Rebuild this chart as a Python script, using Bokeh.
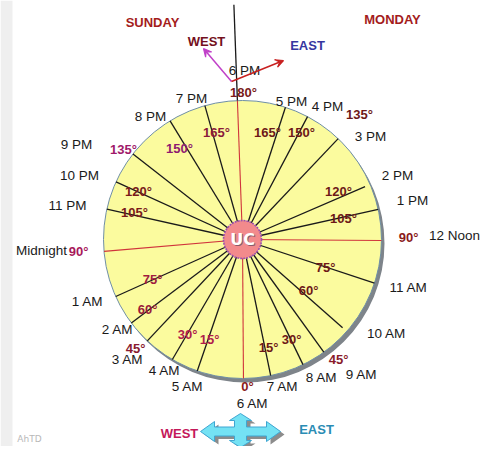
import numpy as np
from bokeh.plotting import figure
from bokeh.models import Range1d, Arrow, VeeHead
from bokeh.core.properties import value
from bokeh.embed import file_html
from bokeh.resources import INLINE

# ---------------- data ----------------
hours = ["6 PM", "5 PM", "4 PM", "3 PM", "2 PM", "1 PM", "12 Noon", "11 AM", "10 AM",
         "9 AM", "8 AM", "7 AM", "6 AM", "5 AM", "4 AM", "3 AM", "2 AM", "1 AM",
         "Midnight", "11 PM", "10 PM", "9 PM", "8 PM", "7 PM"]
# direction of each hour ray, degrees clockwise from "up"
ray_angle = [-2.1, 18.0, 27.9, 43.5, 66.7, 77.5, 90.4, 108.3, 131.4, 144.2, 154.2, 168.3,
             179.6, 199.0, 210.3, 223.2, 233.1, 245.8, 265.1, 282.6, 294.5, 308.0, 328.6, 344.3]
ray_reach = [1.0, 1.0, 1.0, 1.0, 0.96, 1.0, 1.0, 1.0, 0.96, 1.0, 1.0, 1.0,
             1.0, 1.0, 1.0, 1.0, 1.0, 1.0, 1.0, 1.0, 1.0, 1.0, 1.0, 1.0]
red_hours = ["6 PM", "12 Noon", "6 AM", "Midnight"]

deg_labels = ["180°", "165°", "150°", "135°", "120°", "105°", "90°", "75°", "60°", "45°", "30°", "15°", "0°",
              "165°", "150°", "135°", "120°", "105°", "90°", "75°", "60°", "45°", "30°", "15°"]

# ---------------- layout ----------------
cx, cy, R = 242, 239, 139
hour_pos = {
    "6 PM": (244, 70), "5 PM": (291, 101), "4 PM": (327, 106), "3 PM": (370, 136),
    "2 PM": (397, 175), "1 PM": (412, 200), "12 Noon": (454, 235), "11 AM": (408, 287),
    "10 AM": (386, 333), "9 AM": (361, 374), "8 AM": (321, 377), "7 AM": (282, 386),
    "6 AM": (252, 403), "5 AM": (187, 386), "4 AM": (164, 370), "3 AM": (127, 359),
    "2 AM": (117, 329), "1 AM": (87, 301), "Midnight": (41, 250), "11 PM": (67, 205),
    "10 PM": (79, 175), "9 PM": (76, 144), "8 PM": (150, 116), "7 PM": (191, 98),
}
deg_pos = [(243, 92), (216, 132), (179, 148), (123, 149), (138, 191), (134, 212), (78, 251),
           (152, 279), (147, 309), (135, 348), (187, 334), (209, 339), (247, 386),
           (267, 132), (301, 132), (359, 114), (338, 191), (343, 218), (408, 237),
           (325, 267), (308, 290), (338, 359), (291, 339), (268, 347)]
deg_color = ["#7a1a1a", "#8a1a3a", "#8e1a70", "#a0196a", "#7a1a1a", "#7a1a1a", "#a8185a",
             "#a01c40", "#9a1c3a", "#8a1a30", "#b01c4c", "#b01c4c", "#8a1a1a",
             "#6e1818", "#6e1818", "#6e1818", "#6e1818", "#6e1818", "#8a1a1a",
             "#6e1818", "#6e1818", "#8a1a2a", "#6e1818", "#6e1818"]

p = figure(width=488, height=446, x_range=Range1d(0, 488), y_range=Range1d(446, 0),
           output_backend="svg", toolbar_location=None, min_border=0)
p.axis.visible = False
p.grid.visible = False
p.outline_line_color = None
p.background_fill_color = "white"
p.border_fill_color = "white"

# left grey strip
p.quad(left=[0], right=[12], top=[0], bottom=[446], fill_color="#efefef", line_color=None)

# dial disc with shadow
p.circle(x=[cx + 3], y=[cy + 4], radius=R, fill_color="#7e848a", line_color=None)
p.circle(x=[cx], y=[cy], radius=R, fill_color="#fbfb9e", line_color="#6f8fa6", line_width=1)

# rays
a = np.radians(np.array(ray_angle))
reach = np.array(ray_reach)
ex = cx + R * reach * np.sin(a)
ey = cy - R * reach * np.cos(a)
is_red = np.array([h in red_hours for h in hours])
p.segment(x0=[cx] * int((~is_red).sum()), y0=[cy] * int((~is_red).sum()),
          x1=ex[~is_red], y1=ey[~is_red], line_color="#1a1a1a", line_width=1.3)
p.segment(x0=[cx] * int(is_red.sum()), y0=[cy] * int(is_red.sum()),
          x1=ex[is_red], y1=ey[is_red], line_color="#d0343c", line_width=1.1)
# meridian extension above the dial
top_a = a[hours.index("6 PM")]
p.segment(x0=[cx + R * np.sin(top_a)], y0=[cy - R * np.cos(top_a)],
          x1=[cx + R * 1.69 * np.sin(top_a)], y1=[cy - R * 1.69 * np.cos(top_a)],
          line_color="#1a1a1a", line_width=1.3)

# centre UC disc
p.circle(x=[cx], y=[cy], radius=19, fill_color="#f28a8c", line_color="#9a50b0",
         line_width=1.6, line_dash="2 1")
p.text(x=[cx + 1], y=[cy + 1], text=["UC"], text_font=value("DejaVu Sans"), text_font_size="16px",
       text_font_style="bold", text_color="#8a5a6a", text_align="center", text_baseline="middle")
p.text(x=[cx], y=[cy], text=["UC"], text_font=value("DejaVu Sans"), text_font_size="16px",
       text_font_style="bold", text_color="white", text_align="center", text_baseline="middle")

# hour labels
p.text(x=[hour_pos[h][0] for h in hours], y=[hour_pos[h][1] for h in hours], text=hours,
       text_font=value("Liberation Sans"), text_font_size="13.5px", text_color="#1a1a1a",
       text_align="center", text_baseline="middle")

# degree labels
p.text(x=[q[0] for q in deg_pos], y=[q[1] for q in deg_pos], text=deg_labels,
       text_font=value("Liberation Sans"), text_font_size="13px", text_font_style="bold",
       text_color=deg_color, text_align="center", text_baseline="middle")

# top labels and arrows
p.text(x=[152, 392], y=[22, 19], text=["SUNDAY", "MONDAY"], text_font=value("Liberation Sans"),
       text_font_size="13px", text_font_style="bold", text_color="#a41c1c",
       text_align="center", text_baseline="middle")
p.text(x=[206], y=[41], text=["WEST"], text_font=value("Liberation Sans"),
       text_font_size="13px", text_font_style="bold", text_color="#741020",
       text_align="center", text_baseline="middle")
p.text(x=[307], y=[45], text=["EAST"], text_font=value("Liberation Sans"),
       text_font_size="13px", text_font_style="bold", text_color="#3636a0",
       text_align="center", text_baseline="middle")
p.add_layout(Arrow(end=VeeHead(size=8, line_color="#c040c8", line_width=1.2, fill_color="#c040c8"),
                   x_start=231, y_start=81, x_end=203, y_end=48, line_color="#c040c8", line_width=1.5))
p.add_layout(Arrow(end=VeeHead(size=8, line_color="#c82020", line_width=1.2, fill_color="#c82020"),
                   x_start=231, y_start=81, x_end=283, y_end=60, line_color="#c82020", line_width=1.5))

# bottom compass arrow
ax0, ay0 = 240, 431
L, h, H, hw, U, D, hv, Hv, hwv = 40, 14, 10, 4.5, 18, 16, 7, 11, 6
shape = [(L, 0), (L - h, -H), (L - h, -hw), (hwv, -hw), (hwv, -(U - hv)), (Hv, -(U - hv)), (0, -U),
         (-Hv, -(U - hv)), (-hwv, -(U - hv)), (-hwv, -hw), (-(L - h), -hw), (-(L - h), -H), (-L, 0),
         (-(L - h), H), (-(L - h), hw), (-hwv, hw), (-hwv, D - hv), (-Hv, D - hv), (0, D),
         (Hv, D - hv), (hwv, D - hv), (hwv, hw), (L - h, hw), (L - h, H)]
sx = [ax0 + s[0] for s in shape]
sy = [ay0 + s[1] for s in shape]
p.patch([v + 4 for v in sx], [v + 3 for v in sy], fill_color="#8c8c8c", line_color=None)
p.patch(sx, sy, fill_color="#74e2f4", line_color="#3fa6d2", line_width=1)
p.text(x=[179], y=[433], text=["WEST"], text_font=value("Liberation Sans"), text_font_size="13px",
       text_font_style="bold", text_color="#c4185a", text_align="center", text_baseline="middle")
p.text(x=[316], y=[429], text=["EAST"], text_font=value("Liberation Sans"), text_font_size="13px",
       text_font_style="bold", text_color="#2a8cb4", text_align="center", text_baseline="middle")
p.text(x=[29], y=[438], text=["AhTD"], text_font=value("DejaVu Sans"), text_font_size="9px",
       text_color="#b8b8b8", text_align="center", text_baseline="middle")

open("out.html", "w").write(file_html(p, INLINE))
